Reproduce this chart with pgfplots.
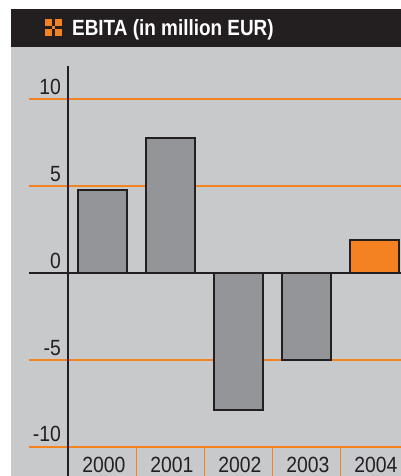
\documentclass[border=0pt]{standalone}
\usepackage{fontspec}
\setmainfont[FakeStretch=0.88]{Liberation Sans}
\newfontfamily\titlefont[FakeStretch=0.86]{Liberation Sans}
\usepackage{pgfplots}
\pgfplotsset{compat=1.18}
\definecolor{panel}{HTML}{C8C9CB}
\definecolor{banner}{HTML}{231F20}
\definecolor{barg}{HTML}{939598}
\definecolor{org}{HTML}{F58220}

\begin{document}
\begin{tikzpicture}
  \useasboundingbox (0bp,0bp) rectangle (401bp,476bp);
  \fill[panel] (11bp,0bp) rectangle (401bp,429bp);
  \fill[banner] (11bp,429bp) rectangle (401bp,467bp);
  % icon
  \fill[org] (45bp,450bp) rectangle (52bp,457bp);
  \fill[org] (55bp,450bp) rectangle (62bp,457bp);
  \fill[org] (45bp,440bp) rectangle (52bp,447bp);
  \fill[org] (55bp,440bp) rectangle (62bp,447bp);
  \fill[org] (52bp,447bp) rectangle (55bp,450bp);
  \node[anchor=base west, inner sep=0pt, text=white, font={\titlefont\bfseries\fontsize{22bp}{24bp}\selectfont}]
    at (72bp,440bp) {EBITA (in million EUR)};
  \begin{axis}[
    at={(68bp,0bp)}, anchor=south west,
    scale only axis,
    width=333bp, height=410bp,
    clip=false,
    xmin=-0.507, xmax=4.39,
    ymin=-11.667, ymax=11.9,
    axis y line*=left,
    axis x line*=bottom,
    y axis line style={line width=2.5bp, draw=banner},
    x axis line style={draw=none},
    ybar,
    bar width=49bp,
    bar shift=0pt,
    ytick={-10,-5,0,5,10},
    yticklabels={-10,-5,0,5,10},
    xtick={0,1,2,3,4},
    xticklabels={2000,2001,2002,2003,2004},
    minor xtick={0.5,1.5,2.5,3.5},
    ymajorgrids=true,
    grid style={line width=1.2bp, draw=org},
    major tick length=39bp,
    minor tick length=29bp,
    ytick align=outside,
    xtick align=inside,
    ytick style={line width=1.2bp, draw=org},
    xtick style={draw=none},
    minor x tick style={line width=1.2bp, draw=org},
    tick label style={font=\fontsize{22bp}{24bp}\selectfont, text=banner},
    yticklabel style={anchor=base east, xshift=32bp, yshift=5bp, inner sep=0pt},
    xticklabel style={anchor=base, inner sep=0pt, yshift=3.5bp, xshift=1.5bp},
  ]
    \addplot[fill=barg, draw=banner, line width=2.3bp] coordinates {
      (0,4.77) (1,7.76) (2,-7.87) (3,-5.0)
    };
    \addplot[fill=org, draw=banner, line width=2.3bp] coordinates {
      (4,1.9)
    };
    \draw[line width=2.5bp, draw=banner] (axis cs:-1.08,0) -- (axis cs:4.39,0);
  \end{axis}
\end{tikzpicture}
\end{document}
